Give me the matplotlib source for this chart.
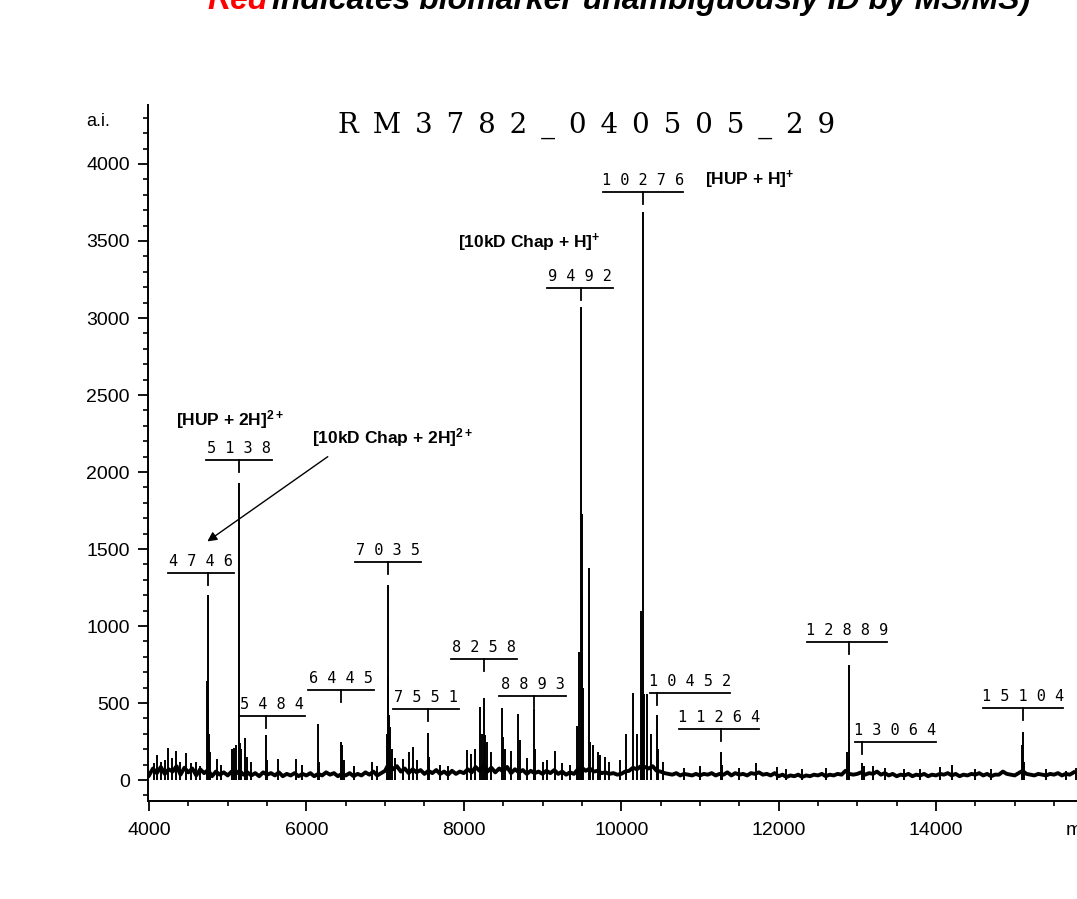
import numpy as np
import matplotlib
matplotlib.use('Agg')
import matplotlib.pyplot as plt
from matplotlib.ticker import MultipleLocator

plt.rcParams['font.family'] = ['Liberation Sans', 'DejaVu Sans']
plt.rcParams['mathtext.default'] = 'regular'

# baseline noise level, one value every 50 m/z starting at 4000
base_ai = [30, 75, 45, 85, 40, 70, 55, 90, 35, 80, 50, 75, 30, 70, 45, 65, 25, 55, 35, 50,
           30, 55, 40, 60, 35, 50, 30, 45, 25, 50, 35, 45, 30, 50, 25, 40, 30, 45, 25, 40,
           30, 45, 25, 40, 30, 50, 35, 45, 25, 40, 30, 45, 25, 40, 30, 50, 35, 55, 30, 45,
           60, 110, 70, 90, 55, 75, 45, 70, 50, 65, 40, 60, 45, 65, 40, 55, 35, 60, 40, 55,
           45, 70, 50, 85, 60, 95, 55, 80, 50, 75, 55, 85, 45, 70, 50, 65, 40, 60, 45, 55,
           40, 60, 45, 65, 40, 55, 35, 50, 40, 70, 80, 60, 75, 55, 60, 45, 50, 40, 45, 35,
           40, 55, 60, 80, 70, 90, 85, 75, 90, 60, 55, 45, 40, 35, 45, 30, 40, 35, 30, 40,
           30, 40, 35, 45, 30, 40, 35, 50, 30, 45, 35, 40, 30, 45, 40, 50, 35, 40, 30, 45,
           25, 35, 20, 30, 25, 35, 20, 30, 25, 35, 30, 40, 25, 35, 30, 40, 35, 60, 40, 35,
           40, 50, 35, 45, 40, 55, 35, 45, 30, 40, 25, 35, 30, 40, 25, 35, 30, 40, 25, 35,
           30, 40, 35, 45, 30, 40, 25, 35, 30, 40, 35, 45, 30, 40, 25, 35, 35, 55, 40, 35,
           30, 45, 60, 40, 35, 30, 40, 35, 30, 40, 35, 45, 30, 40, 35, 50]
base_mz = 4000 + 50 * np.arange(len(base_ai))

# peaks (m/z, intensity)
peak_mz = [4060, 4100, 4150, 4200, 4240, 4290, 4340, 4390, 4470, 4530, 4600, 4650,
           4738, 4746, 4752, 4760, 4775, 4860, 4920,
           5060, 5085, 5110, 5138, 5150, 5175, 5215, 5250, 5300,
           5484, 5500, 5640, 5870, 5950,
           6147, 6160, 6445, 6458, 6475, 6600, 6830, 6900,
           7020, 7035, 7042, 7050, 7065, 7090, 7130, 7230, 7300, 7350, 7400, 7551, 7560, 7700, 7800,
           8040, 8090, 8140, 8206, 8235, 8258, 8270, 8300, 8350, 8485, 8500, 8520, 8600, 8690, 8710,
           8800, 8893, 8905, 9000, 9060, 9159, 9250, 9350,
           9440, 9470, 9492, 9498, 9505, 9515, 9590, 9600, 9640, 9700, 9730, 9800, 9850,
           9980, 10060, 10150, 10200, 10250, 10262, 10276, 10290, 10330, 10380, 10452, 10470, 10530,
           10800, 11000, 11264, 11280, 11500, 11713, 11980, 12100, 12300, 12600,
           12870, 12889, 12900, 13064, 13080, 13200, 13350, 13600, 13800, 14050, 14200, 14500, 14700,
           15090, 15104, 15115, 15400, 15650, 15780]
peak_ai = [110, 160, 120, 130, 205, 140, 190, 120, 175, 110, 120, 90,
           640, 1200, 480, 300, 180, 135, 100,
           200, 210, 230, 1930, 240, 200, 270, 150, 120,
           290, 130, 135, 135, 100,
           365, 120, 250, 230, 130, 90, 120, 90,
           300, 1266, 670, 420, 345, 200, 140, 135, 180, 215, 130, 305, 150, 100, 90,
           195, 170, 200, 474, 300, 530, 290, 250, 180, 467, 280, 200, 190, 428, 260,
           140, 460, 200, 120, 130, 190, 110, 100,
           350, 830, 3070, 1730, 1200, 600, 1380, 250, 230, 180, 160, 150, 120,
           130, 300, 565, 300, 1100, 560, 3690, 560, 560, 300, 420, 200, 120,
           80, 90, 182, 100, 80, 110, 85, 70, 70, 80,
           180, 747, 150, 110, 90, 90, 80, 70, 75, 85, 95, 70, 75,
           227, 312, 120, 70, 60, 80]

# labelled peaks
ann_mz = [4746, 5138, 5484, 6445, 7035, 7551, 8258, 8893, 9492, 10276, 10452, 11264, 12889, 13064, 15104]
ann_bar = [1344, 2078, 416, 584, 1416, 461, 786, 545, 3195, 3818, 565, 331, 896, 247, 468]
ann_shift = [-90, 0, 83, 0, 0, -30, 0, -20, -20, 0, 420, -20, -20, 420, 0]

ion_labels = ['[HUP + 2H]$^{2+}$', '[10kD Chap + 2H]$^{2+}$', '[10kD Chap + H]$^{+}$', '[HUP + H]$^{+}$']
ion_x = [4343, 6071, 7926, 11065]
ion_y = [2338, 2227, 3487, 3896]

fig = plt.figure(figsize=(10.77, 8.99), dpi=100)
ax = fig.add_axes([148 / 1077, 1 - 801 / 899, 1 - 148 / 1077, (801 - 105) / 899])

ax.plot(base_mz, base_ai, color='k', lw=2.8)
ax.vlines(peak_mz, 0, peak_ai, color='k', lw=1.4)

for mz, bar, sh in zip(ann_mz, ann_bar, ann_shift):
    lab = str(mz)
    hw = 420 if len(lab) == 4 else 510
    cx = mz + sh
    ax.plot([cx - hw, cx + hw], [bar, bar], color='k', lw=1.3)
    ax.plot([mz, mz], [bar, bar - 80], color='k', lw=1.3)
    ax.text(cx, bar + 25, ' '.join(lab), ha='center', va='bottom',
            family='DejaVu Sans Mono', fontsize=11)

for t, x, y in zip(ion_labels, ion_x, ion_y):
    ax.text(x, y, t, ha='left', va='center', fontsize=12.5, fontweight='bold')

ax.annotate('', xy=(4712, 1539), xytext=(6300, 2110),
            arrowprops=dict(arrowstyle='-|>', color='k', lw=1.0, mutation_scale=14))

ax.set_xlim(3987, 15792)
ax.set_ylim(-136, 4383)
ax.spines['top'].set_visible(False)
ax.spines['right'].set_visible(False)
ax.spines['left'].set_linewidth(1.4)
ax.spines['bottom'].set_linewidth(1.4)

ax.xaxis.set_major_locator(MultipleLocator(2000))
ax.xaxis.set_minor_locator(MultipleLocator(500))
ax.yaxis.set_major_locator(MultipleLocator(500))
ax.yaxis.set_minor_locator(MultipleLocator(100))
ax.tick_params(which='major', length=7, width=1.3, labelsize=14, pad=6)
ax.tick_params(which='minor', length=3.5, width=1.2)
ax.tick_params(axis='x', which='major', pad=8)

ax.text(3352, 4273, 'a.i.', ha='center', va='center', fontsize=13)
ax.text(15650, -330, 'm/z', ha='left', va='center', fontsize=14, clip_on=False)

title = 'RM3782_040505_29'
ax.text((587 - 148) / 929, (801 - 125) / 696, '\u2002'.join(title), transform=ax.transAxes,
        ha='center', va='center', family='DejaVu Serif', fontsize=20)

# caption cut off at the top edge, as in the source image
cap_y = 1 - 9 / 899
t1 = fig.text(207 / 1077, cap_y, 'Red', color='red', fontsize=23, fontweight='bold',
              fontstyle='italic', va='baseline')
fig.canvas.draw()
bb = t1.get_window_extent(fig.canvas.get_renderer())
fig.text(bb.x1 / 1077 + 5 / 1077, cap_y, 'indicates biomarker unambiguously ID by MS/MS)', color='k',
         fontsize=23, fontweight='bold', fontstyle='italic', va='baseline')

fig.savefig('out.png', dpi=100)
